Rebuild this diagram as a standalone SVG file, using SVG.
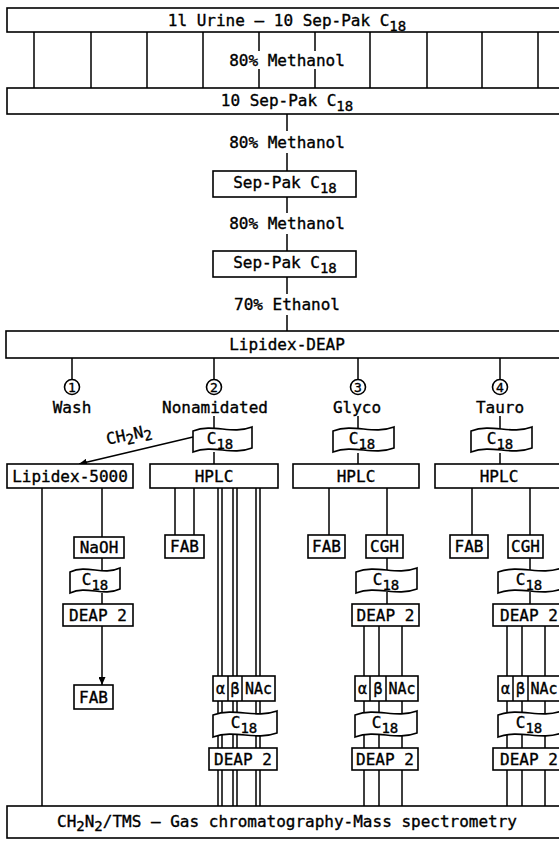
<svg xmlns="http://www.w3.org/2000/svg" width="559" height="846" viewBox="0 0 559 846">
<defs>
<style>
.b{fill:#fff;stroke:#000;stroke-width:1.6}
.l{stroke:#000;stroke-width:1.5;fill:none}
text{font-family:"DejaVu Sans Mono","Liberation Mono",monospace;font-size:16px;fill:#000;stroke:#000;stroke-width:0.35;text-anchor:middle}
.n{font-size:14px}
.c{font-size:13px}
.g{font-size:15px}
</style>
<marker id="ah" markerUnits="userSpaceOnUse" markerWidth="8" markerHeight="7" refX="8" refY="3.5" orient="auto"><path d="M0,0 L8,3.5 L0,7 z" fill="#000"/></marker>
</defs>
<rect width="559" height="846" fill="#fff"/>

<g id="connectors">
<path class="l" d="M34,32V88M91,32V88M147,32V88M203,32V88M370,32V88M427,32V88M482,32V88M538,32V88M259,32V51M259,69V88M315,32V51M315,69V88"/>
<path class="l" d="M287,114V131M287,153V171M287,197V213M287,234V251M287,277V294M287,315V331"/>
<path class="l" d="M72,358V379.5M214,358V379.5M358,358V379.5M500,358V379.5M214,416V432M358,416V432M500,416V432"/>
<path class="l" d="M214,452V464M358,453V464M500,453V464M193,437L79,464" marker-end="url(#ah)"/>
<path class="l" d="M42,488V806M102,488V537M102,558V572"/>
<path class="l" d="M102,593V604M102,626V685" marker-end="url(#ah)"/>
<path class="l" d="M175,488V535M194,488V535M218,488V806M222,488V806M233,488V806M237,488V806M256,488V806M260,488V806"/>
<path class="l" d="M329,488V535M387,488V535M387,558V572M387,592V604M364,626V806M379,626V806M402,626V806"/>
<path class="l" d="M472,488V535M530,488V535M530,558V572M530,592V604M507,626V806M522,626V806M545,626V806"/>
</g>

<g id="top">
<rect class="b" x="7" y="8" width="570" height="24"/>
<text x="287" y="26">1l Urine — 10 Sep-Pak C<tspan class="n" dy="5">18</tspan></text>
</g>
<g id="grid-label"><text x="287" y="66">80% Methanol</text></g>
<g id="sep10">
<rect class="b" x="7" y="88" width="570" height="26"/>
<text x="287" y="106">10 Sep-Pak C<tspan class="n" dy="5">18</tspan></text>
</g>
<g id="m1"><text x="287" y="148">80% Methanol</text></g>
<g id="sep1">
<rect class="b" x="213" y="171" width="143" height="26"/>
<text x="285" y="188">Sep-Pak C<tspan class="n" dy="5">18</tspan></text>
</g>
<g id="m2"><text x="287" y="229">80% Methanol</text></g>
<g id="sep2">
<rect class="b" x="213" y="251" width="143" height="26"/>
<text x="285" y="268">Sep-Pak C<tspan class="n" dy="5">18</tspan></text>
</g>
<g id="e1"><text x="287" y="310">70% Ethanol</text></g>
<g id="lipidex-deap">
<rect class="b" x="6" y="331" width="570" height="27"/>
<text x="287" y="350">Lipidex-DEAP</text>
</g>

<g id="f1"><circle class="b" cx="72" cy="387" r="7.5"/><text class="c" x="72" y="392">1</text><text x="72" y="413">Wash</text></g>
<g id="f2"><circle class="b" cx="214" cy="387" r="7.5"/><text class="c" x="214" y="392">2</text><text x="215" y="413">Nonamidated</text></g>
<g id="f3"><circle class="b" cx="358" cy="387" r="7.5"/><text class="c" x="358" y="392">3</text><text x="357" y="413">Glyco</text></g>
<g id="f4"><circle class="b" cx="500" cy="387" r="7.5"/><text class="c" x="500" y="392">4</text><text x="500" y="413">Tauro</text></g>

<g id="c18-2"><path class="b" d="M193,431c20.6,-8 38.4,4 59,-4v21c-20.6,8 -38.4,-4 -59,4z"/><text x="220" y="444">C<tspan class="n" dy="5">18</tspan></text></g>
<g id="c18-3"><path class="b" d="M333,431c21.3,-8 39.7,4 61,-4v21c-21.3,8 -39.7,-4 -61,4z"/><text x="362" y="444">C<tspan class="n" dy="5">18</tspan></text></g>
<g id="c18-4"><path class="b" d="M471,431c21.3,-8 39.7,4 61,-4v21c-21.3,8 -39.7,-4 -61,4z"/><text x="500" y="444">C<tspan class="n" dy="5">18</tspan></text></g>

<g id="ch2n2"><text x="130" y="440" transform="rotate(-12 130 440)">CH<tspan class="n" dy="4">2</tspan><tspan dy="-4">N</tspan><tspan class="n" dy="4">2</tspan></text></g>

<g id="lipidex5000"><rect class="b" x="7" y="464" width="126" height="24"/><text x="70" y="482">Lipidex-5000</text></g>
<g id="hplc2"><rect class="b" x="150" y="464" width="128" height="24"/><text x="214" y="482">HPLC</text></g>
<g id="hplc3"><rect class="b" x="293" y="464" width="126" height="24"/><text x="356" y="482">HPLC</text></g>
<g id="hplc4"><rect class="b" x="435" y="464" width="128" height="24"/><text x="499" y="482">HPLC</text></g>

<g id="naoh"><rect class="b" x="74" y="537" width="50" height="21"/><text x="99" y="553">NaOH</text></g>
<g id="fab2"><rect class="b" x="165" y="535" width="39" height="23"/><text x="184.5" y="552">FAB</text></g>
<g id="fab3"><rect class="b" x="308" y="535" width="37" height="23"/><text x="326.5" y="552">FAB</text></g>
<g id="cgh3"><rect class="b" x="366" y="535" width="37" height="23"/><text x="384.5" y="552">CGH</text></g>
<g id="fab4"><rect class="b" x="450" y="535" width="38" height="23"/><text x="469" y="552">FAB</text></g>
<g id="cgh4"><rect class="b" x="508" y="535" width="35" height="23"/><text x="525.5" y="552">CGH</text></g>

<g id="c18-1b"><path class="b" d="M70,572c17.5,-8 32.5,4 50,-4v21c-17.5,8 -32.5,-4 -50,4z"/><text x="95" y="585">C<tspan class="n" dy="5">18</tspan></text></g>
<g id="c18-3b"><path class="b" d="M356,572c21.3,-8 39.7,4 61,-4v21c-21.3,8 -39.7,-4 -61,4z"/><text x="386" y="585">C<tspan class="n" dy="5">18</tspan></text></g>
<g id="c18-4b"><path class="b" d="M498,572c22.4,-8 41.6,4 64,-4v21c-22.4,8 -41.6,-4 -64,4z"/><text x="529" y="585">C<tspan class="n" dy="5">18</tspan></text></g>

<g id="deap1"><rect class="b" x="63" y="604" width="70" height="22"/><text x="98" y="621">DEAP 2</text></g>
<g id="deap3"><rect class="b" x="352" y="604" width="67" height="22"/><text x="385.5" y="621">DEAP 2</text></g>
<g id="deap4"><rect class="b" x="493" y="604" width="72" height="22"/><text x="529" y="621">DEAP 2</text></g>

<g id="fab1"><rect class="b" x="74" y="685" width="39" height="24"/><text x="93.5" y="703">FAB</text></g>

<g id="abn2"><rect class="b" x="213" y="676" width="62" height="25"/><path class="l" d="M228,676V701M242,676V701"/><text class="g" x="220.5" y="694">α</text><text class="g" x="235" y="694">β</text><text class="g" x="258.5" y="694">NAc</text></g>
<g id="abn3"><rect class="b" x="355" y="676" width="63" height="25"/><path class="l" d="M370,676V701M386,676V701"/><text class="g" x="362.5" y="694">α</text><text class="g" x="378" y="694">β</text><text class="g" x="402" y="694">NAc</text></g>
<g id="abn4"><rect class="b" x="498" y="676" width="67" height="25"/><path class="l" d="M513,676V701M528,676V701"/><text class="g" x="505.5" y="694">α</text><text class="g" x="520.5" y="694">β</text><text class="g" x="544" y="694">NAc</text></g>

<g id="c18-2c"><path class="b" d="M213,715c22.4,-8 41.6,4 64,-4v22c-22.4,8 -41.6,-4 -64,4z"/><text x="244" y="728">C<tspan class="n" dy="5">18</tspan></text></g>
<g id="c18-3c"><path class="b" d="M355,715c21.7,-8 40.3,4 62,-4v22c-21.7,8 -40.3,-4 -62,4z"/><text x="385" y="728">C<tspan class="n" dy="5">18</tspan></text></g>
<g id="c18-4c"><path class="b" d="M498,715c22.4,-8 41.6,4 64,-4v22c-22.4,8 -41.6,-4 -64,4z"/><text x="529" y="728">C<tspan class="n" dy="5">18</tspan></text></g>

<g id="deap2c"><rect class="b" x="209" y="748" width="68" height="22"/><text x="243" y="765">DEAP 2</text></g>
<g id="deap3c"><rect class="b" x="352" y="748" width="66" height="22"/><text x="385" y="765">DEAP 2</text></g>
<g id="deap4c"><rect class="b" x="493" y="748" width="72" height="22"/><text x="529" y="765">DEAP 2</text></g>

<g id="gcms"><rect class="b" x="7" y="806" width="570" height="32"/><text x="287" y="827">CH<tspan class="n" dy="4">2</tspan><tspan dy="-4">N</tspan><tspan class="n" dy="4">2</tspan><tspan dy="-4">/TMS — Gas chromatography-Mass spectrometry</tspan></text></g>
</svg>
